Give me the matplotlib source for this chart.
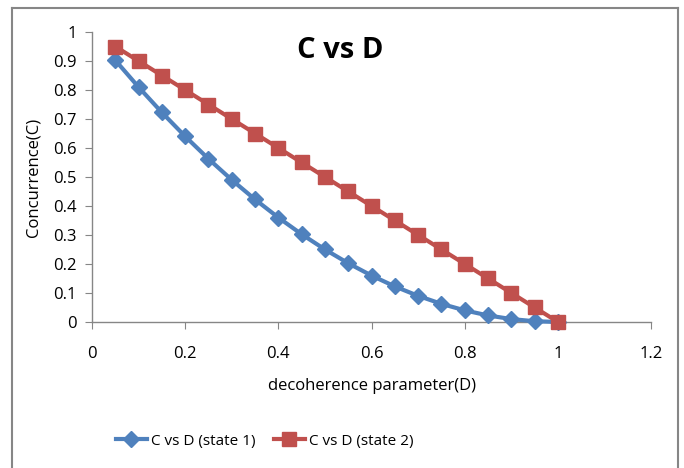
import matplotlib.pyplot as plt
from matplotlib.lines import Line2D

plt.rcParams['font.family'] = ['Open Sans', 'DejaVu Sans']

# data
d_values = [0.05, 0.1, 0.15, 0.2, 0.25, 0.3, 0.35, 0.4, 0.45, 0.5,
            0.55, 0.6, 0.65, 0.7, 0.75, 0.8, 0.85, 0.9, 0.95, 1.0]
c_state1 = [0.9025, 0.81, 0.7225, 0.64, 0.5625, 0.49, 0.4225, 0.36, 0.3025, 0.25,
            0.2025, 0.16, 0.1225, 0.09, 0.0625, 0.04, 0.0225, 0.01, 0.0025, 0.0]
c_state2 = [0.95, 0.9, 0.85, 0.8, 0.75, 0.7, 0.65, 0.6, 0.55, 0.5,
            0.45, 0.4, 0.35, 0.3, 0.25, 0.2, 0.15, 0.1, 0.05, 0.0]

x_ticks = [0, 0.2, 0.4, 0.6, 0.8, 1, 1.2]
x_tick_labels = ['0', '0.2', '0.4', '0.6', '0.8', '1', '1.2']
y_ticks = [0, 0.1, 0.2, 0.3, 0.4, 0.5, 0.6, 0.7, 0.8, 0.9, 1]
y_tick_labels = ['0', '0.1', '0.2', '0.3', '0.4', '0.5', '0.6', '0.7', '0.8', '0.9', '1']

blue = '#4F81BD'
red = '#C0504D'
axis_gray = '#868686'

fig = plt.figure(figsize=(6.84, 4.68), dpi=100, facecolor='white')
ax = fig.add_axes([0.1345, 0.312, 0.8175, 0.6196])

# outer chart frame (bottom edge falls outside the image)
fig.add_artist(Line2D([12/684, 12/684], [0, 1 - 8/468], color=axis_gray, lw=1.5))
fig.add_artist(Line2D([12/684, 678/684], [1 - 8/468, 1 - 8/468], color=axis_gray, lw=1.5))
fig.add_artist(Line2D([678/684, 678/684], [0, 1 - 8/468], color=axis_gray, lw=1.5))

ax.plot(d_values, c_state1, '-', color=blue, lw=3, marker='D', markersize=8,
        markeredgecolor=blue, label='C vs D (state 1)', clip_on=False, zorder=3)
ax.plot(d_values, c_state2, '-', color=red, lw=3, marker='s', markersize=10,
        markeredgecolor=red, label='C vs D (state 2)', clip_on=False, zorder=4)

ax.set_xlim(0, 1.2)
ax.set_ylim(0, 1)
ax.set_xticks(x_ticks)
ax.set_xticklabels(x_tick_labels)
ax.set_yticks(y_ticks)
ax.set_yticklabels(y_tick_labels)
ax.tick_params(axis='both', direction='out', length=5, color=axis_gray,
               labelsize=12, pad=6)
ax.tick_params(axis='x', pad=12)

for side in ['top', 'right']:
    ax.spines[side].set_visible(False)
for side in ['left', 'bottom']:
    ax.spines[side].set_color(axis_gray)
    ax.spines[side].set_linewidth(1)

ax.set_xlabel('decoherence parameter(D)', fontsize=12, labelpad=12)
ax.set_ylabel('Concurrence(C)', fontsize=12, labelpad=8)

fig.text(340/684, 1 - 50/468, 'C vs D', fontsize=21, fontweight='bold',
         ha='center', va='center')

fig.legend(loc='center', bbox_to_anchor=(265/684, 1 - 441/468), ncol=2, frameon=False,
           fontsize=11, handlelength=2, handletextpad=0.3, columnspacing=1.2)

fig.savefig('out.png', dpi=100)
